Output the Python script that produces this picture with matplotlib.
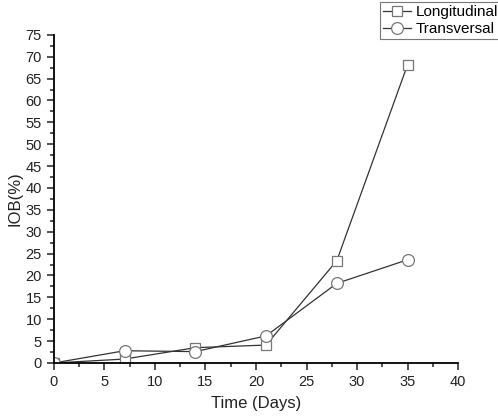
import matplotlib.pyplot as plt
from matplotlib.ticker import MultipleLocator

plt.rcParams['font.family'] = ['Liberation Sans', 'DejaVu Sans']

days = [0, 7, 14, 21, 28, 35]
longitudinal = [0.0, 0.9, 3.5, 4.1, 23.4, 68.2]
transversal = [0.0, 2.8, 2.6, 6.2, 18.2, 23.6]

fig = plt.figure(figsize=(4.98, 4.18), dpi=100)
ax = fig.add_axes([0.108, 0.1316, 0.812, 0.785])

ax.plot(days, longitudinal, color='#333333', lw=0.9, marker='s', ms=7,
        mfc='white', mec='#777777', mew=0.9, label='Longitudinal')
ax.plot(days, transversal, color='#333333', lw=0.9, marker='o', ms=8.5,
        mfc='white', mec='#777777', mew=0.9, label='Transversal')

ax.set_xlim(0, 40)
ax.set_ylim(0, 75)
ax.xaxis.set_major_locator(MultipleLocator(5))
ax.xaxis.set_minor_locator(MultipleLocator(2.5))
ax.yaxis.set_major_locator(MultipleLocator(5))
ax.yaxis.set_minor_locator(MultipleLocator(2.5))
ax.tick_params(which='major', direction='out', length=5, width=1.1, labelsize=10.5,
               color='#222222', labelcolor='#222222')
ax.tick_params(which='minor', direction='out', length=3, width=1.1, color='#222222')

ax.spines['top'].set_visible(False)
ax.spines['right'].set_visible(False)
ax.spines['left'].set_linewidth(1.3)
ax.spines['bottom'].set_linewidth(1.3)
for s in ax.spines.values():
    s.set_clip_on(False)

ax.set_xlabel('Time (Days)', fontsize=12, labelpad=5, color='#222222')
ax.set_ylabel('IOB(%)', fontsize=12, labelpad=2, color='#222222')

# legend sits above the plot area, top right
leg = ax.legend(loc='upper left', bbox_to_anchor=(0.807, 1.10), fontsize=11,
                frameon=True, fancybox=False, edgecolor='#555555',
                handlelength=1.8, handletextpad=0.3, borderpad=0.2,
                labelspacing=0.2, borderaxespad=0)
leg.get_frame().set_linewidth(0.8)

fig.savefig('out.png', dpi=100)
